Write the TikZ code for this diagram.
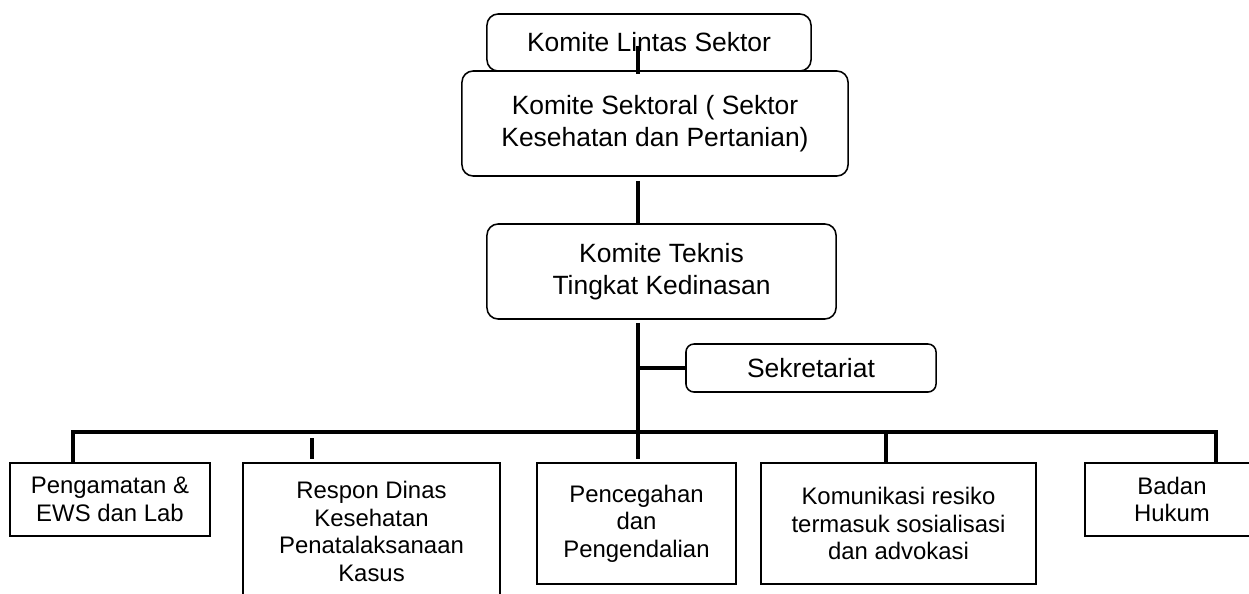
\documentclass[tikz,border=0pt]{standalone}
\usepackage{fontspec}
\setmainfont{Liberation Sans}
\usetikzlibrary{calc, positioning}
\newcommand\topsize{\fontsize{18.8}{22.8}\selectfont}
\newcommand\botsize{\fontsize{17}{19.6}\selectfont}

\begin{document}
\begin{tikzpicture}[
        x=0.025cm, y=-0.025cm,
        rbox/.style={draw, line width=1.1pt, rounded corners=0.28cm, fill=white, align=center, inner sep=0pt, font=\topsize},
        sqbox/.style={draw, line width=1.1pt, fill=white, align=center, inner sep=0pt, font=\botsize},
        link/.style={line width=2.7pt}
    ]
    \clip (0,0) rectangle (1249,593);

    \node[rbox, minimum width=8.1cm, minimum height=1.425cm] (lintas) at (649,42.5) {Komite Lintas Sektor};
    \node[rbox, minimum width=9.65cm, minimum height=2.625cm] (sektoral) at (655,123.5) {Komite Sektoral ( Sektor\\Kesehatan dan Pertanian)};
    \node[rbox, minimum width=8.725cm, minimum height=2.375cm] (teknis) at (661.5,271.5) {Komite Teknis\\Tingkat Kedinasan};
    \node[rbox, rounded corners=0.2cm, minimum width=6.25cm, minimum height=1.2cm] (sekret) at (811,368) {Sekretariat};

    \node[sqbox, minimum width=5cm, minimum height=1.825cm] (pengamatan) at (110,499.5) {Pengamatan \&\\EWS dan Lab};
    \node[sqbox, minimum width=6.425cm, minimum height=3.425cm] (respon) at (371.5,531.5) {Respon Dinas\\Kesehatan\\Penatalaksanaan\\Kasus};
    \node[sqbox, minimum width=4.975cm, minimum height=3.025cm] (pencegahan) at (636.5,523.5) {Pencegahan\\dan\\Pengendalian};
    \node[sqbox, minimum width=6.875cm, minimum height=3.025cm] (komunikasi) at (898.5,523.5) {Komunikasi resiko\\termasuk sosialisasi\\dan advokasi};
    \node[sqbox, minimum width=4.35cm, minimum height=1.825cm] (badan) at (1172,499.5) {Badan\\Hukum};

    \coordinate (spine) at (638,432);
    \coordinate (busL) at (73,432);
    \coordinate (busR) at (1216,432);
    \coordinate (kom) at (886,432);
    \coordinate (res) at (312,438);

    \draw[link] ($(lintas.center -| spine)+(0,3)$) -- ($(sektoral.north -| spine)+(0,4)$);
    \draw[link] ($(sektoral.south -| spine)+(0,4)$) -- (teknis.north -| spine);
    \draw[link] ($(teknis.south -| spine)+(0,3)$) -- ($(pencegahan.north -| spine)+(0,-3)$);
    \draw[link] (sekret.west -| spine) -- (sekret.west);
    \draw[link] (pengamatan.north -| busL) |- (busR) -- (badan.north -| busR);
    \draw[link] (kom) -- (komunikasi.north -| kom);
    \draw[link] (res) -- ($(respon.north -| res)+(0,-3)$);
\end{tikzpicture}
\end{document}
